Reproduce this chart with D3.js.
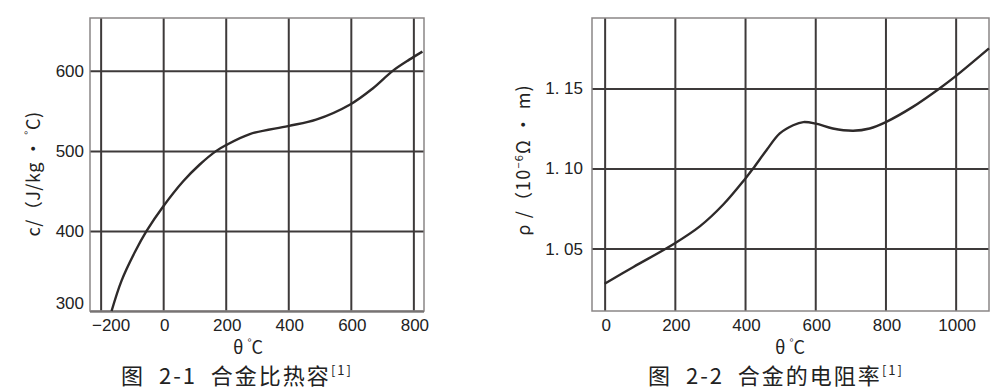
<!DOCTYPE html>
<html>
<head>
<meta charset="utf-8">
<script src="https://cdn.jsdelivr.net/npm/d3@7"></script>
<style>
  body { margin: 0; background: #fff; }
  svg { font-family: "Noto Sans CJK SC", "Noto Sans", sans-serif; }
  .grid line { stroke: #3e3a3a; stroke-width: 2; }
  .grid path { display: none; }
  .grid text { fill: #222; font-size: 17px; }
</style>
</head>
<body>
<svg id="chart" width="1000" height="390"></svg>
<script>
// ---- data: alloy specific heat (fig 2-1)
const heatTemp  = [-165, -133, -90, -53, 0, 64, 117, 170, 200, 277, 399, 489, 598, 670, 734, 787, 829];
const heatValue = [300, 338, 374, 400, 430.5, 462, 483, 500, 507, 521, 531, 539, 558, 578, 600, 614, 624];
const heatXTicks = [-200, 0, 200, 400, 600, 800];
const heatYTicks = [300, 400, 500, 600];

// ---- data: alloy resistivity (fig 2-2)
const rhoTemp  = [0, 82, 198, 272, 338, 400, 423, 461, 499, 537, 566, 602, 650, 708, 755, 801, 878, 954, 1002, 1095];
const rhoValue = [1.028, 1.0385, 1.053, 1.064, 1.0775, 1.0935, 1.100, 1.1114, 1.1219, 1.127, 1.129, 1.128, 1.125, 1.1236, 1.125, 1.129, 1.1385, 1.150, 1.158, 1.175];
const rhoXTicks = [0, 200, 400, 600, 800, 1000];
const rhoYTicks = [1.05, 1.10, 1.15];
const rhoYLabels = ["1. 05", "1. 10", "1. 15"];

const svg = d3.select("#chart");

//_________________ one panel
function drawPanel(opt) {
  const x = d3.scaleLinear().domain(opt.xDomain).range([opt.left, opt.right]);
  const y = d3.scaleLinear().domain(opt.yDomain).range([opt.bottom, opt.top]);
  const w = opt.right - opt.left, h = opt.bottom - opt.top;

  // vertical grid + x labels
  const gx = svg.append("g")
    .attr("class", "grid")
    .attr("transform", `translate(0,${opt.bottom})`)
    .call(d3.axisBottom(x).tickValues(opt.xTicks).tickSize(-h).tickPadding(8)
      .tickFormat(d => d < 0 ? "\u2212" + (-d) : d));
  gx.selectAll(".tick text").attr("dx", d => d < 0 ? 10 : 1);

  // horizontal grid + y labels
  const gy = svg.append("g")
    .attr("class", "grid")
    .attr("transform", `translate(${opt.left},0)`)
    .call(d3.axisLeft(y).tickValues(opt.yTicks).tickSize(-w).tickPadding(opt.yPad)
      .tickFormat((d, i) => opt.yLabels ? opt.yLabels[i] : d));
  gy.selectAll(".tick text")
    .attr("dy", (d) => d === opt.yDomain[0] ? "-0.15em" : "0.32em");

  // frame
  svg.append("rect")
    .attr("x", opt.left).attr("y", opt.top)
    .attr("width", w).attr("height", h)
    .attr("fill", "none").attr("stroke", "#8a8686").attr("stroke-width", 1.5);

  // curve
  const line = d3.line()
    .x((d, i) => x(opt.xs[i]))
    .y(d => y(d))
    .curve(d3.curveCatmullRom.alpha(0.5));
  svg.append("path")
    .datum(opt.ys)
    .attr("d", line)
    .attr("fill", "none")
    .attr("stroke", "#2e2a2a")
    .attr("stroke-width", 2.4);

  // x title
  const xt = svg.append("text")
    .attr("x", opt.xTitleX).attr("y", 354)
    .attr("text-anchor", "middle")
    .attr("font-size", 18).attr("fill", "#222");
  xt.append("tspan").text("θ ");
  xt.append("tspan").attr("font-size", 11).attr("dy", -7).text("°");
  xt.append("tspan").attr("dy", 7).text("C");

  // y title
  const yt = svg.append("text")
    .attr("transform", `translate(${opt.yTitleX},${opt.yTitleY}) rotate(-90)`)
    .attr("text-anchor", "middle")
    .attr("font-size", 18).attr("letter-spacing", opt.yTitleSpacing).attr("fill", "#222");
  opt.yTitle(yt);

  // caption
  const cap = svg.append("text")
    .attr("x", opt.capX).attr("y", 384)
    .attr("text-anchor", "middle")
    .attr("font-size", 22).attr("fill", "#222")
    .attr("letter-spacing", 2)
    .style("white-space", "pre");
  cap.append("tspan").text(opt.caption);
  cap.append("tspan").attr("font-size", 13).attr("dy", -9).text("[1]");
}

drawPanel({
  left: 90, right: 424, top: 18, bottom: 311,
  xDomain: [-234, 834], yDomain: [300, 666],
  xTicks: heatXTicks, yTicks: heatYTicks, yPad: 6,
  xs: heatTemp, ys: heatValue,
  xTitleX: 248, yTitleX: 40, yTitleY: 174, yTitleSpacing: 0.5, capX: 237,
  caption: "图  2-1  合金比热容",
  yTitle: t => {
    t.append("tspan").text("c/（J/kg · ");
    t.append("tspan").attr("font-size", 11).attr("dy", -7).text("°");
    t.append("tspan").attr("dy", 7).text("C)");
  }
});

drawPanel({
  left: 592, right: 989, top: 18, bottom: 311,
  xDomain: [-36, 1095], yDomain: [1.011, 1.194],
  xTicks: rhoXTicks, yTicks: rhoYTicks, yLabels: rhoYLabels, yPad: 9,
  xs: rhoTemp, ys: rhoValue,
  xTitleX: 790, yTitleX: 530, yTitleY: 160, yTitleSpacing: 1.2, capX: 776,
  caption: "图  2-2  合金的电阻率",
  yTitle: t => {
    t.append("tspan").text("ρ /（10");
    t.append("tspan").attr("font-size", 11).attr("dy", -7).text("−6");
    t.append("tspan").attr("dy", 7).text("Ω · m)");
  }
});
</script>
</body>
</html>
